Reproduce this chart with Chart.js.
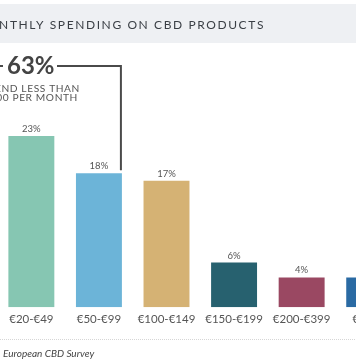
<!DOCTYPE html>
<html>
<head>
<meta charset="utf-8">
<script src="https://cdn.jsdelivr.net/npm/chart.js@4/dist/chart.umd.min.js"></script>
<style>
  html, body { margin: 0; padding: 0; background: #fff; }
  #wrap { position: relative; width: 356px; height: 364px; overflow: hidden; background: #fff; }
  #c { position: absolute; left: -70px; top: 0; }
</style>
</head>
<body>
<div id="wrap"><canvas id="c" width="473" height="364"></canvas></div>
<script>
const categories = ['<€20', '€20-€49', '€50-€99', '€100-€149', '€150-€199', '€200-€399', '€400+'];
const shares = [22, 23, 18, 17, 6, 4, 4];
const barColors = ['#5d8fa8', '#86c6b2', '#6cb4d8', '#d5b274', '#27616f', '#9a4862', '#2a6aa3'];
const titleText = 'MONTHLY SPENDING ON CBD PRODUCTS';
const calloutValue = '63%';
const calloutLines = ['SPEND LESS THAN', '€100 PER MONTH'];
const sourceText = 'European CBD Survey';

const OFFX = 70; // canvas is shifted left by this amount

const overlay = {
  id: 'overlay',
  beforeDraw(chart) {
    const ctx = chart.ctx;
    ctx.save();
    ctx.translate(OFFX, 0);
    // title band
    ctx.fillStyle = '#eef0f3';
    ctx.fillRect(-OFFX, 4, 356 + OFFX, 39);
    ctx.fillStyle = '#3a3f45';
    ctx.font = '12px Lato';
    ctx.letterSpacing = '1.6px';
    ctx.textAlign = 'right';
    ctx.textBaseline = 'alphabetic';
    ctx.fillText(titleText, 265, 29);
    ctx.restore();
  },
  afterDraw(chart) {
    const ctx = chart.ctx;
    const meta = chart.getDatasetMeta(0);
    // value labels
    ctx.save();
    ctx.fillStyle = '#555';
    ctx.font = '9.5px Lato';
    ctx.textAlign = 'center';
    ctx.textBaseline = 'alphabetic';
    meta.data.forEach((bar, i) => {
      ctx.fillText(shares[i] + '%', bar.x, bar.y - 4);
    });
    ctx.restore();

    ctx.save();
    ctx.translate(OFFX, 0);
    // callout bracket
    const b2 = meta.data[2];
    const vx = b2.x - OFFX + b2.width / 2 - 1;
    ctx.strokeStyle = '#4a4a4a';
    ctx.lineWidth = 2;
    ctx.beginPath();
    ctx.moveTo(-OFFX, 66);
    ctx.lineTo(3, 66);
    ctx.moveTo(57, 66);
    ctx.lineTo(vx, 66);
    ctx.lineTo(vx, b2.y - 3);
    ctx.stroke();
    ctx.fillStyle = '#444';
    ctx.font = 'bold 24px Lato';
    ctx.textAlign = 'left';
    ctx.fillText(calloutValue, 7, 74);
    ctx.fillStyle = '#555';
    ctx.font = '10.2px Lato';
    ctx.letterSpacing = '0.6px';
    ctx.textAlign = 'right';
    ctx.fillText(calloutLines[0], 80, 92);
    ctx.fillText(calloutLines[1], 78, 101);
    ctx.letterSpacing = '0px';
    // divider
    ctx.strokeStyle = '#d6d6d6';
    ctx.lineWidth = 1;
    ctx.setLineDash([1, 1]);
    ctx.beginPath();
    ctx.moveTo(0, 339.5);
    ctx.lineTo(356, 339.5);
    ctx.stroke();
    ctx.setLineDash([]);
    // source
    ctx.fillStyle = '#444';
    ctx.font = 'italic 10px Lato';
    ctx.textAlign = 'left';
    ctx.fillText(sourceText, 3, 357);
    ctx.restore();
  }
};

new Chart(document.getElementById('c'), {
  type: 'bar',
  data: {
    labels: categories,
    datasets: [{
      data: shares,
      backgroundColor: barColors,
      borderWidth: 0,
      barPercentage: 0.68,
      categoryPercentage: 1
    }]
  },
  options: {
    responsive: false,
    animation: false,
    layout: { padding: { top: 84, bottom: 33, left: 0, right: 0 } },
    plugins: { legend: { display: false }, tooltip: { enabled: false } },
    scales: {
      x: {
        grid: { display: false, drawTicks: false },
        border: { display: false },
        ticks: { color: '#555', font: { family: 'Lato', size: 11.5 }, padding: 5, maxRotation: 0, autoSkip: false }
      },
      y: { display: false, min: 0, max: 30 }
    }
  },
  plugins: [overlay]
});
</script>
</body>
</html>
